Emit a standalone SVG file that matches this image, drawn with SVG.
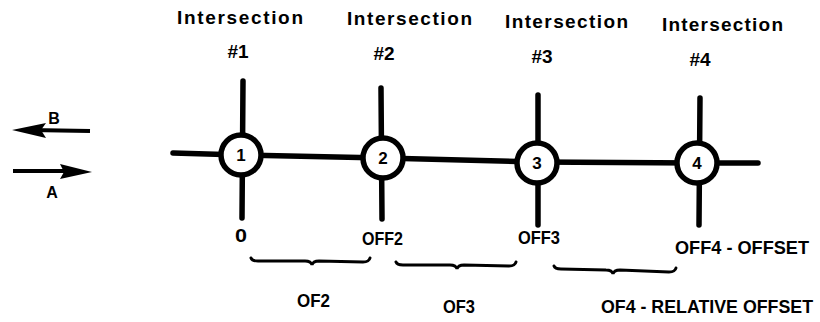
<svg xmlns="http://www.w3.org/2000/svg" width="820" height="322" viewBox="0 0 820 322">
<style>
.t{font-family:"Liberation Sans","DejaVu Sans",sans-serif;font-weight:bold;fill:#000}
.h{font-size:19px}
.n{font-size:17px}
.l{font-size:19px}
.s{font-size:16px}
.ln{stroke:#000;stroke-width:5.5;stroke-linecap:round;fill:none}
.c{fill:#fff;stroke:#000;stroke-width:5.5}
.br{stroke:#000;stroke-width:3;fill:none;stroke-linecap:round}
.ar{stroke:#000;stroke-width:4;fill:none}
</style>
<rect width="820" height="322" fill="#fff"/>
<g id="connectors">
<path class="ln" d="M173,153 L241,155 L383,158 L537,162 L697,163 L758,163"/>
<line class="ln" x1="243" y1="81" x2="242" y2="218"/>
<line class="ln" x1="381" y1="88" x2="382" y2="219"/>
<line class="ln" x1="538" y1="95" x2="538" y2="225"/>
<line class="ln" x1="700" y1="98" x2="699" y2="225"/>
</g>
<g id="node1"><circle class="c" cx="241" cy="155" r="20"/><text class="t n" x="241" y="161" text-anchor="middle">1</text></g>
<g id="node2"><circle class="c" cx="383" cy="158" r="20"/><text class="t n" x="383" y="164" text-anchor="middle">2</text></g>
<g id="node3"><circle class="c" cx="537" cy="163" r="20"/><text class="t n" x="537" y="169" text-anchor="middle">3</text></g>
<g id="node4"><circle class="c" cx="697" cy="163" r="20"/><text class="t n" x="697" y="169" text-anchor="middle">4</text></g>
<g id="headers">
<text class="t h" x="177" y="24" textLength="126" lengthAdjust="spacing">Intersection</text>
<text class="t h" x="238" y="58" text-anchor="middle">#1</text>
<text class="t h" x="347" y="25" textLength="125" lengthAdjust="spacing">Intersection</text>
<text class="t h" x="384" y="60" text-anchor="middle">#2</text>
<text class="t h" x="505" y="28" textLength="123" lengthAdjust="spacing">Intersection</text>
<text class="t h" x="542" y="63" text-anchor="middle">#3</text>
<text class="t h" x="662" y="31" textLength="121" lengthAdjust="spacing">Intersection</text>
<text class="t h" x="700" y="66" text-anchor="middle">#4</text>
</g>
<g id="offsets">
<text class="t l" x="235" y="242" textLength="12" lengthAdjust="spacingAndGlyphs">0</text>
<text class="t l" x="362" y="245" textLength="41" lengthAdjust="spacingAndGlyphs">OFF2</text>
<text class="t l" x="518" y="244" textLength="42" lengthAdjust="spacingAndGlyphs">OFF3</text>
<text class="t l" x="675" y="254" textLength="134" lengthAdjust="spacingAndGlyphs">OFF4 - OFFSET</text>
<text class="t l" x="297" y="307" textLength="33" lengthAdjust="spacingAndGlyphs">OF2</text>
<text class="t l" x="443" y="313" textLength="32" lengthAdjust="spacingAndGlyphs">OF3</text>
<text class="t" style="font-size:17.5px" x="601" y="313" textLength="212" lengthAdjust="spacingAndGlyphs">OF4 - RELATIVE OFFSET</text>
</g>
<g id="braces">
<path class="br" d="M251,258 q1,3 7,3 L305,261 q6,0 7,4 q1,-4 7,-4 L363,262 q6,0 7,-4"/>
<path class="br" d="M396,262 q1,3 7,3 L450,265 q6,0 7,4 q1,-4 7,-4 L509,266 q6,0 7,-4"/>
<path class="br" d="M554,266 q1,3 7,3 L606,270 q6,0 7,4 q1,-4 7,-4 L669,272 q6,0 7,-4"/>
</g>
<g id="arrowB">
<line class="ar" x1="90" y1="131" x2="30" y2="130"/>
<polygon points="12,130 46,123 41,130 46,138" fill="#000"/>
<text class="t s" x="54" y="124" text-anchor="middle">B</text>
</g>
<g id="arrowA">
<line class="ar" x1="13" y1="171" x2="75" y2="171"/>
<polygon points="92,172 60,164 64,172 60,179" fill="#000"/>
<text class="t s" x="52" y="198" text-anchor="middle">A</text>
</g>
</svg>
